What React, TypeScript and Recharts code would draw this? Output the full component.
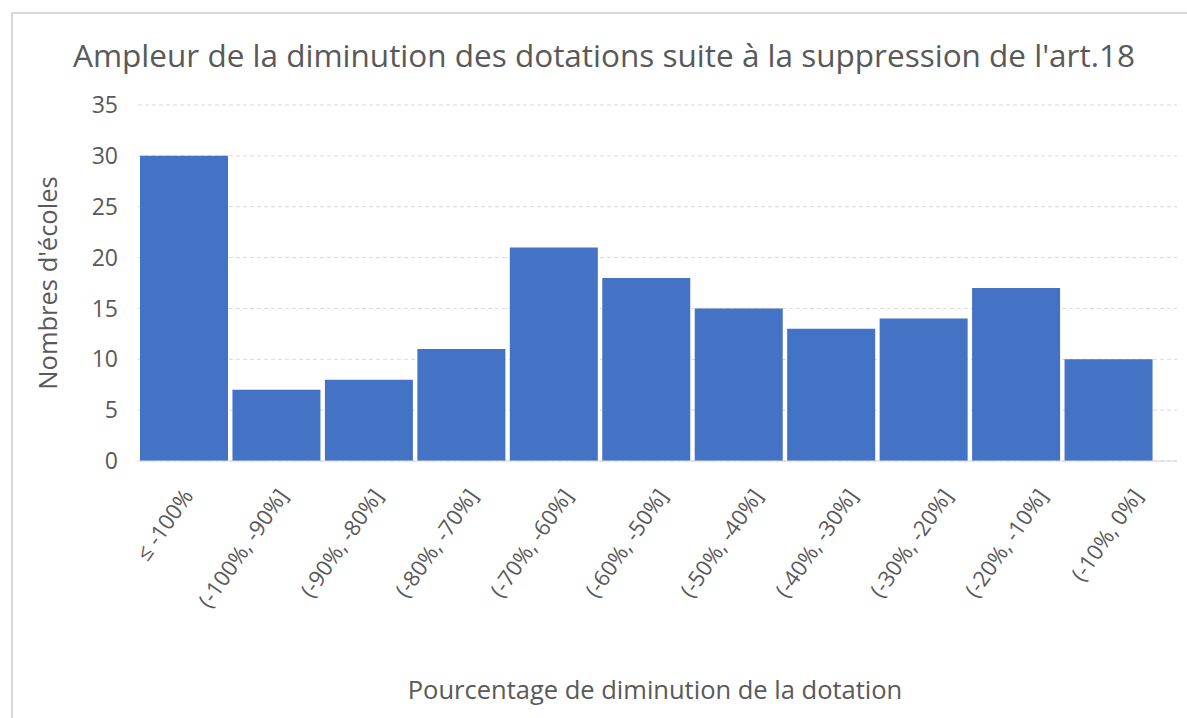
import { BarChart, Bar, XAxis, YAxis, CartesianGrid } from 'recharts'

const rangeLabels = [
  '≤ -100%',
  '(-100%, -90%]',
  '(-90%, -80%]',
  '(-80%, -70%]',
  '(-70%, -60%]',
  '(-60%, -50%]',
  '(-50%, -40%]',
  '(-40%, -30%]',
  '(-30%, -20%]',
  '(-20%, -10%]',
  '(-10%, 0%]',
]
const schoolCounts = [30, 7, 8, 11, 21, 18, 15, 13, 14, 17, 10]
const countTicks = [0, 5, 10, 15, 20, 25, 30, 35]

const TEXT = '#595959'
const BAR = '#4472C4'
const GRID = '#d9d9d9'

const chartData = rangeLabels.map((range, i) => ({
  range,
  count: schoolCounts[i],
}))

// rotated category label, anchored at its end a little right of the bar centre
function RangeTick(props: any) {
  const { x, y, payload, index } = props
  const tx = x + 10 + (index ?? 0) * 2.5
  const ty = y + 27
  return (
    <text
      x={tx}
      y={ty}
      textAnchor="end"
      fill={TEXT}
      fontSize={22}
      transform={`rotate(-55, ${tx}, ${ty})`}
    >
      {payload.value}
    </text>
  )
}

export default function App() {
  return (
    <div
      style={{
        position: 'absolute',
        left: 0,
        top: 0,
        width: 1187,
        height: 718,
        overflow: 'hidden',
        background: '#fff',
        fontFamily: '"Open Sans", sans-serif',
      }}
    >
      {/* chart frame */}
      <div
        style={{
          position: 'absolute',
          left: 11,
          top: 12,
          width: 1200,
          height: 760,
          borderTop: `2px solid ${GRID}`,
          borderLeft: `2px solid ${GRID}`,
        }}
      />

      <div
        style={{
          position: 'absolute',
          left: 604,
          top: 54,
          transform: 'translate(-50%, -50%)',
          whiteSpace: 'nowrap',
          fontSize: 31.5,
          color: TEXT,
        }}
      >
        Ampleur de la diminution des dotations suite à la suppression de l'art.18
      </div>

      <div
        style={{
          position: 'absolute',
          left: 47,
          top: 283,
          transform: 'translate(-50%, -50%) rotate(-90deg)',
          whiteSpace: 'nowrap',
          fontSize: 25.5,
          color: TEXT,
        }}
      >
        Nombres d'écoles
      </div>

      <div
        style={{
          position: 'absolute',
          left: 655,
          top: 689,
          transform: 'translate(-50%, -50%)',
          whiteSpace: 'nowrap',
          fontSize: 25.5,
          color: TEXT,
        }}
      >
        Pourcentage de diminution de la dotation
      </div>

      <div style={{ position: 'absolute', left: 0, top: 0 }}>
        <BarChart
          width={1187}
          height={718}
          data={chartData}
          margin={{ top: 105, right: 10, left: 0, bottom: 0 }}
          barCategoryGap={2}
        >
          <CartesianGrid
            vertical={false}
            stroke={GRID}
            strokeDasharray="4 3"
          />
          <XAxis
            dataKey="range"
            height={257}
            interval={0}
            tickLine={false}
            axisLine={{ stroke: GRID }}
            padding={{ left: 0, right: 22 }}
            tick={<RangeTick />}
          />
          <YAxis
            width={138}
            domain={[0, 35]}
            ticks={countTicks}
            tickLine={false}
            axisLine={false}
            tickMargin={14}
            tick={{ fill: TEXT, fontSize: 23 }}
          />
          <Bar dataKey="count" fill={BAR} isAnimationActive={false} />
        </BarChart>
      </div>
    </div>
  )
}
